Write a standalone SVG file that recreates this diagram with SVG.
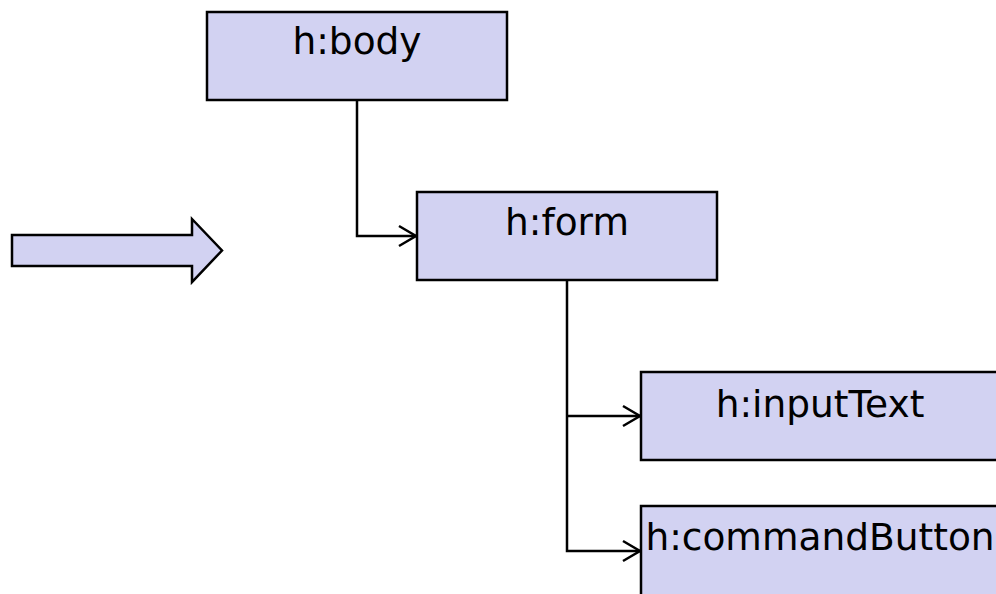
<svg xmlns="http://www.w3.org/2000/svg" width="996" height="594" viewBox="0 0 996 594">
  <style>
    .box { fill: #d2d2f2; stroke: #000; stroke-width: 2.5; }
    .label { font-family: "DejaVu Sans", Verdana, sans-serif; font-size: 37.5px; fill: #000; text-anchor: middle; }
    .wire { fill: none; stroke: #000; stroke-width: 2.5; }
    .head { fill: none; stroke: #000; stroke-width: 2.5; }
  </style>
  <rect width="996" height="594" fill="#fff"/>

  <!-- block arrow on the left -->
  <g id="bigArrow">
    <path class="box" d="M12,235 H192 V219 L222,250.5 L192,282 V266 H12 Z" stroke-width="3"/>
  </g>

  <g id="connectors">
    <path class="wire" d="M357,100 V236 H416"/>
    <path class="head" d="M399,226 L416,236 L399,246"/>
    <path class="wire" d="M567,280 V551 H640"/>
    <path class="wire" d="M567,416 H640"/>
    <path class="head" d="M623,406 L640,416 L623,426"/>
    <path class="head" d="M623,541 L640,551 L623,561"/>
  </g>

  <g id="node-body">
    <rect class="box" x="207" y="12" width="300" height="88"/>
    <text class="label" x="357" y="54">h:body</text>
  </g>

  <g id="node-form">
    <rect class="box" x="417" y="192" width="300" height="88"/>
    <text class="label" x="567" y="235">h:form</text>
  </g>

  <g id="node-inputText">
    <rect class="box" x="641" y="372" width="358" height="88"/>
    <text class="label" x="820" y="417">h:inputText</text>
  </g>

  <g id="node-commandButton">
    <rect class="box" x="641" y="506" width="358" height="100"/>
    <text class="label" x="820" y="550">h:commandButton</text>
  </g>
</svg>
